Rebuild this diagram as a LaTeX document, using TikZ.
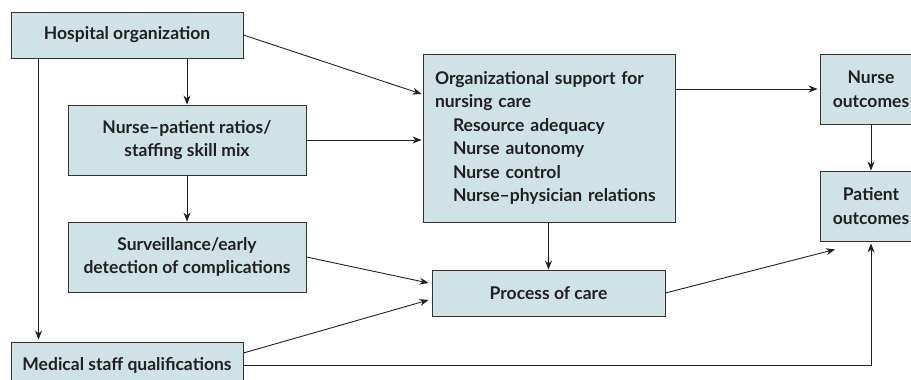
\documentclass[tikz,border=0pt]{standalone}
\usepackage{fontspec}
\setmainfont{Lato}
\usetikzlibrary{arrows.meta}
\definecolor{boxfill}{HTML}{CFE2E6}
\definecolor{boxline}{HTML}{333333}
\definecolor{ink}{HTML}{231F20}
\begin{document}
\begin{tikzpicture}[x=1pt,y=-1pt,
  box/.style={draw=boxline,fill=boxfill,line width=0.9pt,inner sep=0pt,
    font=\fontsize{17.5}{23.5}\selectfont\bfseries,text=ink,align=center},
  conn/.style={draw=ink,line width=0.9pt,-{Stealth[length=9pt,width=7pt]}}]
\useasboundingbox (0,0) rectangle (911,380);
\node[box,minimum width=232pt,minimum height=46pt] (hosp) at (127,35) {Hospital organization};
\node[box,minimum width=238pt,minimum height=70pt] (np) at (187,140) {Nurse--patient ratios/\\staffing skill mix};
\node[box,minimum width=238pt,minimum height=70pt] (surv) at (187,257) {Surveillance/early\\detection of complications};
\node[box,minimum width=232pt,minimum height=46pt] (med) at (127,365) {Medical staff qualifications};
\node[box,minimum width=252pt,minimum height=168pt,text width=228pt,inner xsep=12pt,align=left] (org) at (549,138) {Organizational support for\\nursing care\\\hspace*{18pt}Resource adequacy\\\hspace*{18pt}Nurse autonomy\\\hspace*{18pt}Nurse control\\\hspace*{18pt}Nurse--physician relations};
\node[box,minimum width=102pt,minimum height=70pt] (no) at (871,89) {Nurse\\outcomes};
\node[box,minimum width=102pt,minimum height=70pt] (po) at (871,206) {Patient\\outcomes};
\node[box,minimum width=233pt,minimum height=46pt] (proc) at (548.5,293) {Process of care};
\draw[conn] (hosp.east) -- ([yshift=44pt,xshift=-1pt]org.west);
\draw[conn] (np.north |- hosp.south) -- (np.north);
\draw[conn] ([xshift=28pt]hosp.south west) -- ([xshift=28pt,yshift=2pt]med.north west);
\draw[conn] (np.east) -- ([xshift=-1pt]org.west |- np.east);
\draw[conn] (np.south) -- (surv.north);
\draw[conn] (surv.east) -- ([yshift=10pt,xshift=-3pt]proc.west);
\draw[conn] ([yshift=12pt]med.east) -- ([yshift=-7pt,xshift=-3pt]proc.west);
\draw[conn] (org.south -| proc.north) -- (proc.north);
\draw[conn] (org.east |- no.west) -- ([xshift=-2pt]no.west);
\draw[conn] (no.south) -- (po.north);
\draw[conn] (proc.east) -- ([xshift=-36pt,yshift=-8pt]po.south);
\draw[conn] (med.east) -| ([yshift=-2pt]po.south);
\end{tikzpicture}
\end{document}
